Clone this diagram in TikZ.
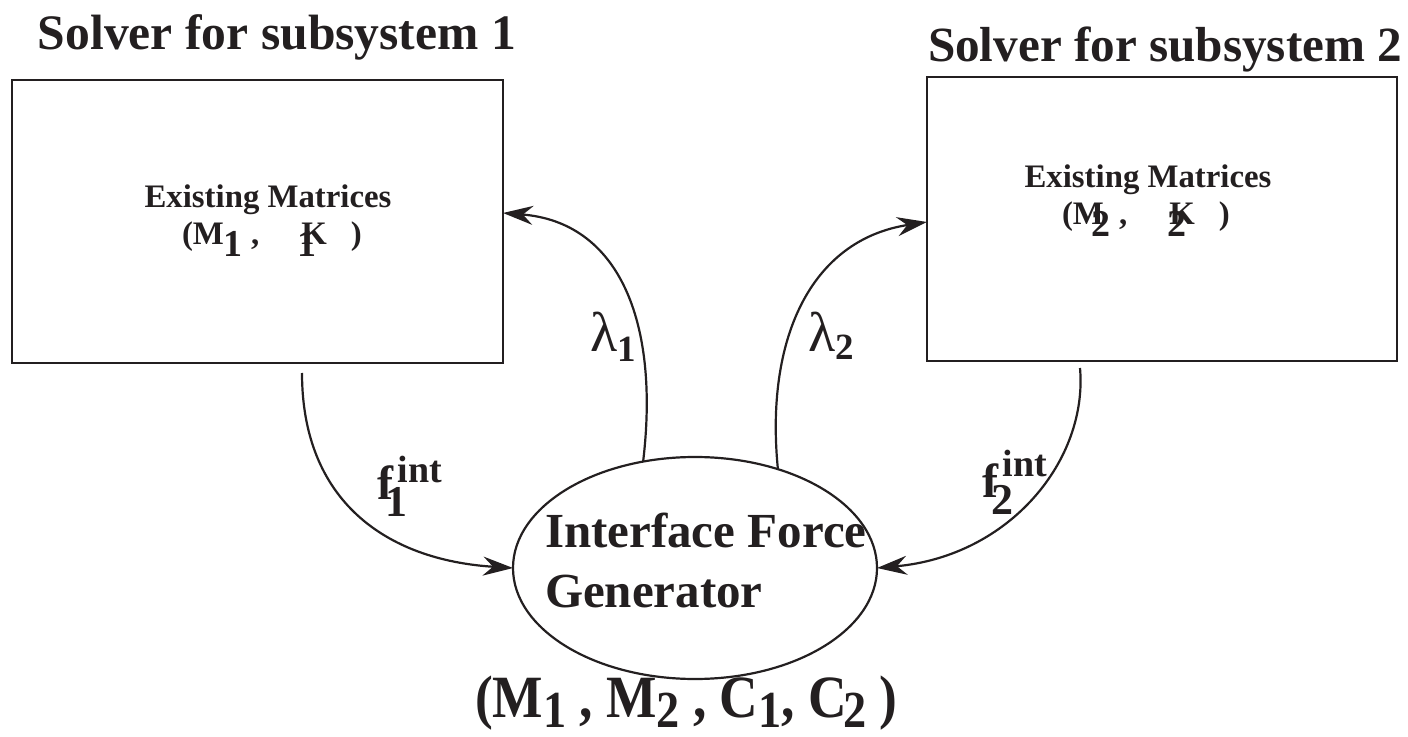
\documentclass[tikz,border=0pt]{standalone}
\usepackage{fontspec}
\usepackage{graphicx}
\setmainfont{Liberation Serif}
\usetikzlibrary{arrows.meta,shapes.geometric}
\definecolor{ink}{RGB}{35,31,32}
\newcommand\fs[1]{\fontsize{#1}{#1}\selectfont}
\newcommand\lowsub[3]{\raisebox{-#1}{\fs{#2}#3}}
\begin{document}
\begin{tikzpicture}[x=0.5pt,y=-0.5pt,
  box/.style={draw=ink, line width=1.3pt, rectangle, inner sep=0, outer sep=0},
  genellipse/.style={draw=ink, line width=1.1pt, ellipse, inner sep=0, outer sep=0, minimum width=182pt, minimum height=111pt},
  lbl/.style={inner sep=0, outer sep=0, anchor=base west, text=ink, font=\bfseries},
  clbl/.style={inner sep=0, outer sep=0, anchor=base, text=ink, font=\bfseries},
  conn/.style={draw=ink, line width=1.1pt, -{Stealth[length=15pt,width=9.5pt,inset=5pt]}}
]
\useasboundingbox (0,0) rectangle (1408,737);

% boxes and ellipse
\node[box, minimum width=245.5pt, minimum height=141.5pt] (box1) at (257.5,221.5) {};
\node[box, minimum width=235pt, minimum height=142pt] (box2) at (1162,219) {};
\node[genellipse] (ig) at (695,568) {};

% titles
\node[lbl] (t1) at (38,50) {\fs{24.8}Solver for subsystem 1};
\node[lbl] (t2) at (928,62) {\fs{24.6}Solver for subsystem 2};

% box contents
\node[clbl] (em1) at (268,208) {\fs{16.4}Existing Matrices};
\node[lbl] (mk1) at (182,245) {\fs{16.4}(M\lowsub{6pt}{19}{1} ,\hspace{21pt}\rlap{\hspace{-2pt}\lowsub{6pt}{19}{1}}K\hspace{12pt})};
\node[clbl] (em2) at (1148,188) {\fs{16.4}Existing Matrices};
\node[lbl] (mk2) at (1062,225) {\fs{16.4}(M\hspace{-6pt}\lowsub{6pt}{19}{2} ,\hspace{21pt}\rlap{\hspace{-1pt}\lowsub{6pt}{19}{2}}K\hspace{12pt})};

% ellipse text
\node[lbl] (ig1) at (545,547) {\fs{24.5}Interface Force};
\node[lbl] (ig2) at (545,607) {\fs{24.5}Generator};

% bottom text
\node[lbl] (mats) at (475,717) {\scalebox{0.89}[1]{\fs{30}(M\lowsub{5pt}{26}{1} , M\lowsub{5pt}{26}{2} , C\lowsub{5pt}{26}{1}, C\hspace{-2pt}\lowsub{5pt}{26}{2} )}};

% connector end points
\coordinate (l1end) at ([yshift=-66.5pt]box1.north east);
\coordinate (l2end) at ([yshift=-72.5pt]box2.north west);
\coordinate (f1start) at ([xshift=145pt,yshift=-5pt]box1.south west);
\coordinate (f2start) at ([xshift=76.5pt,yshift=-3.5pt]box2.south west);

% connectors
\draw[conn] (ig.116) .. controls (660,320) and (618,222) .. (l1end);
\draw[conn] (ig.50) .. controls (765,340) and (810,240) .. (l2end);
\draw[conn] (f1start) .. controls (302,500) and (385,560) .. (ig.west);
\draw[conn] (f2start) .. controls (1088,460) and (1010,556) .. (ig.east);

% connector labels
\node[lbl, font=\mdseries] (lam1) at (590,352) {\fs{28}λ\lowsub{5pt}{18.5}{\bfseries 1}};
\node[lbl, font=\mdseries] (lam2) at (808,352) {\fs{28}λ\lowsub{4pt}{18.5}{\bfseries 2}};
\node[lbl] (f1lab) at (377,500) {\fs{24}f\rlap{\hspace{2.5pt}\raisebox{9pt}{\fs{19}int}}\hspace{-3.5pt}\lowsub{8.5pt}{22}{1}};
\node[lbl] (f2lab) at (982,497) {\fs{24}f\rlap{\hspace{2.5pt}\raisebox{10pt}{\fs{19}int}}\hspace{-3pt}\lowsub{8.5pt}{22}{2}};
\end{tikzpicture}
\end{document}
